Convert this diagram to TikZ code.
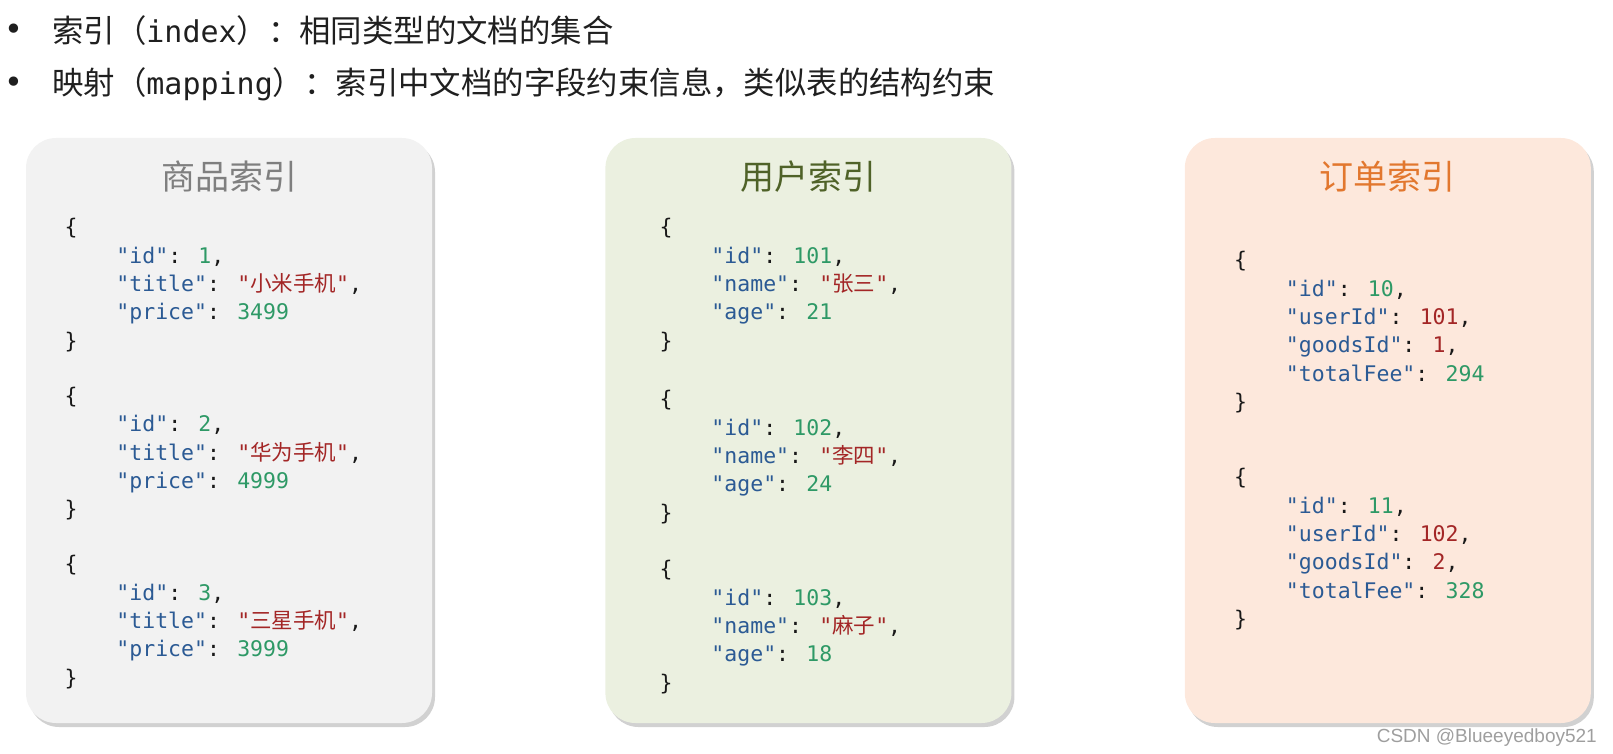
\documentclass[tikz,border=0pt]{standalone}
\usepackage{fontspec}
\usepackage{xcolor}
\usepackage{tikz}
\usetikzlibrary{positioning,shadows}
\newfontfamily\cjk{Noto Sans CJK SC}
\newfontfamily\mono{DejaVu Sans Mono}
\newfontfamily\simbolo{DejaVu Sans}
\newfontfamily\marcafonte{Liberation Sans}
\definecolor{cinzaCaixa}{HTML}{F2F2F2}
\definecolor{verdeCaixa}{HTML}{EBF0E0}
\definecolor{laranjaCaixa}{HTML}{FDE8DC}
\definecolor{cinzaTitulo}{HTML}{7F7F7F}
\definecolor{verdeTitulo}{HTML}{4F6228}
\definecolor{laranjaTitulo}{HTML}{E2772E}
\definecolor{chaveAzul}{HTML}{2B5A94}
\definecolor{numeroVerde}{HTML}{2E9966}
\definecolor{textoVermelho}{HTML}{A32626}
\newcommand{\recuo}{\hphantom{xxxx}}
\newcommand{\chave}[1]{\textcolor{chaveAzul}{"#1"}:}
\newcommand{\valor}[1]{\textcolor{numeroVerde}{#1}}
\newcommand{\valorRef}[1]{\textcolor{textoVermelho}{#1}}
\newcommand{\cadeia}[1]{\textcolor{textoVermelho}{"{\cjk #1}"}}
\newcommand{\termo}[1]{{\mono\fontsize{30}{36}\selectfont #1}}
\tikzset{
    caixa/.style={
        rectangle,
        rounded corners=30pt,
        minimum width=406pt,
        minimum height=585pt,
        inner sep=0pt,
        drop shadow={shadow xshift=3pt, shadow yshift=-4pt, opacity=0.3, fill=black!60}
    },
    titulo/.style={font=\cjk\fontsize{34}{40}\selectfont, inner sep=0pt},
    codigo/.style={
        font=\mono\fontsize{21.5}{28.3}\selectfont,
        align=left,
        anchor=north west,
        inner sep=0pt,
        text=black!90
    },
    cabecalho/.style={font=\cjk\fontsize{31.4}{36}\selectfont, anchor=west, inner sep=0pt, text=black!88},
    marcador/.style={font=\simbolo\fontsize{32}{36}\selectfont, inner sep=0pt, text=black!88},
    marca/.style={font=\marcafonte\fontsize{19}{22}\selectfont, text=black!38, anchor=base east, inner sep=0pt}
}

\begin{document}
\begin{tikzpicture}[x=1pt, y=-1pt]
    \useasboundingbox (0,0) rectangle (1613,754);

    % cabecalho
    \node[marcador] (bala1) at (14,32) {•};
    \node[cabecalho] (indice) at (52,31) {索引（\termo{index}）：相同类型的文档的集合};
    \node[marcador] (bala2) at (14,85) {•};
    \node[cabecalho] (mapeamento) at (52,84) {映射（\termo{mapping}）：索引中文档的字段约束信息，类似表的结构约束};

    % caixas dos indices
    \node[caixa, fill=cinzaCaixa] (produtos) at (229,430.5) {};
    \node[caixa, fill=verdeCaixa, right=173pt of produtos] (usuarios) {};
    \node[caixa, fill=laranjaCaixa, right=173pt of usuarios] (pedidos) {};

    \node[titulo, text=cinzaTitulo] (tituloProdutos) at ([yshift=-39pt]produtos.north) {商品索引};
    \node[titulo, text=verdeTitulo] (tituloUsuarios) at ([yshift=-39pt]usuarios.north) {用户索引};
    \node[titulo, text=laranjaTitulo] (tituloPedidos) at ([yshift=-39pt]pedidos.north) {订单索引};

    % documentos
    \node[codigo] (produto1) at (64.5,216.7) {\rule{0pt}{18pt}\{\\\recuo\chave{id} \valor{1},\\\recuo\chave{title} \cadeia{小米手机},\\\recuo\chave{price} \valor{3499}\\\}};
    \node[codigo] (produto2) at (64.5,385.2) {\rule{0pt}{18pt}\{\\\recuo\chave{id} \valor{2},\\\recuo\chave{title} \cadeia{华为手机},\\\recuo\chave{price} \valor{4999}\\\}};
    \node[codigo] (produto3) at (64.5,553.7) {\rule{0pt}{18pt}\{\\\recuo\chave{id} \valor{3},\\\recuo\chave{title} \cadeia{三星手机},\\\recuo\chave{price} \valor{3999}\\\}};

    \node[codigo] (usuario1) at (659.5,216.7) {\rule{0pt}{18pt}\{\\\recuo\chave{id} \valor{101},\\\recuo\chave{name} \cadeia{张三},\\\recuo\chave{age} \valor{21}\\\}};
    \node[codigo] (usuario2) at (659.5,388.7) {\rule{0pt}{18pt}\{\\\recuo\chave{id} \valor{102},\\\recuo\chave{name} \cadeia{李四},\\\recuo\chave{age} \valor{24}\\\}};
    \node[codigo] (usuario3) at (659.5,558.7) {\rule{0pt}{18pt}\{\\\recuo\chave{id} \valor{103},\\\recuo\chave{name} \cadeia{麻子},\\\recuo\chave{age} \valor{18}\\\}};

    \node[codigo] (pedido1) at (1234,249.7) {\rule{0pt}{18pt}\{\\\recuo\chave{id} \valor{10},\\\recuo\chave{userId} \valorRef{101},\\\recuo\chave{goodsId} \valorRef{1},\\\recuo\chave{totalFee} \valor{294}\\\}};
    \node[codigo] (pedido2) at (1234,466.7) {\rule{0pt}{18pt}\{\\\recuo\chave{id} \valor{11},\\\recuo\chave{userId} \valorRef{102},\\\recuo\chave{goodsId} \valorRef{2},\\\recuo\chave{totalFee} \valor{328}\\\}};

    \node[marca] (marca) at (1597,742) {CSDN @Blueeyedboy521};
\end{tikzpicture}
\end{document}
